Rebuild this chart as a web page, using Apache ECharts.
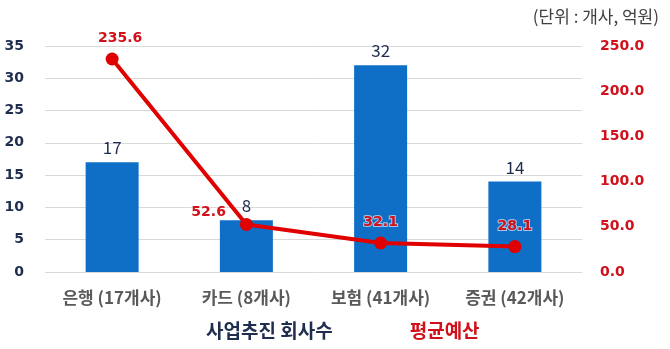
<!DOCTYPE html>
<html><head><meta charset="utf-8">
<script src="https://cdn.jsdelivr.net/npm/echarts@6/dist/echarts.min.js"></script>
<style>html,body{margin:0;padding:0;background:#fff}#c{width:670px;height:349px}</style>
</head><body><div id="c"></div>
<script>
var categories = ['은행 (17개사)', '카드 (8개사)', '보험 (41개사)', '증권 (42개사)'];
var companyCounts = [17, 8, 32, 14];
var avgBudget = [235.6, 52.6, 32.1, 28.1];
var seriesNames = ['사업추진 회사수', '평균예산'];
var unitText = '(단위 : 개사, 억원)';

var FONT = '"Noto Sans CJK KR", "Noto Sans", sans-serif';
var NUM = '"DejaVu Sans", Verdana, sans-serif';
var chart = echarts.init(document.getElementById('c'));
chart.setOption({
  animation: false,
  textStyle: { fontFamily: FONT },
  title: { text: unitText, right: 6, top: 3, textStyle: { fontFamily: FONT, fontSize: 17, fontWeight: 'normal', color: '#404040' } },
  legend: {
    bottom: 4, left: 196, itemGap: 72, itemWidth: 0, itemHeight: 0, icon: 'rect',
    data: [
      { name: seriesNames[0], textStyle: { color: '#1F2D4F' } },
      { name: seriesNames[1], textStyle: { color: '#D0101A' } }
    ],
    textStyle: { fontFamily: FONT, fontSize: 19, fontWeight: 'bold' }
  },
  grid: { left: 45, right: 88, top: 46, bottom: 77 },
  xAxis: {
    type: 'category', data: categories,
    axisLine: { show: false }, axisTick: { show: false },
    axisLabel: { color: '#595959', fontSize: 17, fontWeight: 'bold', margin: 17, fontFamily: FONT }
  },
  yAxis: [
    { type: 'value', min: 0, max: 35, interval: 5, position: 'left',
      axisLine: { show: false }, axisTick: { show: false },
      splitLine: { lineStyle: { color: '#D9D9D9', width: 1 } },
      axisLabel: { color: '#1F2D4F', fontSize: 14, fontWeight: 'bold', margin: 21, fontFamily: NUM } },
    { type: 'value', min: 0, max: 250, interval: 50, position: 'right',
      axisLine: { show: false }, axisTick: { show: false }, splitLine: { show: false },
      axisLabel: { color: '#D0101A', fontSize: 14, fontWeight: 'bold', margin: 18, fontFamily: NUM,
        formatter: function (v) { return v.toFixed(1); } } }
  ],
  series: [
    { name: seriesNames[0], type: 'bar', data: companyCounts, barWidth: 53, yAxisIndex: 0,
      itemStyle: { color: '#0F6FC6' },
      label: { show: true, position: 'top', distance: 6, color: '#1F2D4F', fontSize: 17, fontFamily: FONT } },
    { name: seriesNames[1], type: 'line', yAxisIndex: 1,
      lineStyle: { color: '#E00000', width: 4 }, itemStyle: { color: '#E00000' },
      symbol: 'circle', symbolSize: 13,
      label: { show: true, position: 'top', distance: 7, color: '#D0101A', fontSize: 14, fontWeight: 'bold',
        fontFamily: NUM, textBorderColor: 'rgba(255,255,255,0.6)', textBorderWidth: 2 },
      data: avgBudget.map(function (v, i) {
        if (i === 1) return { value: v, label: { position: 'left', distance: 14, offset: [0, -12] } };
        if (i === 0) return { value: v, label: { offset: [8, 0] } };
        return v;
      })
    }
  ]
});
</script></body></html>
